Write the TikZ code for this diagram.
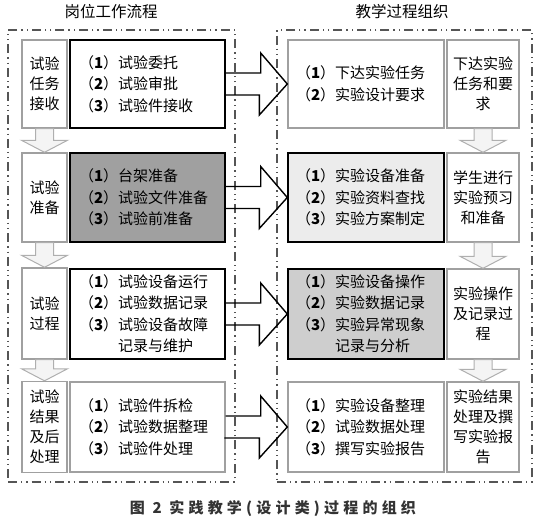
\documentclass[tikz,border=0pt]{standalone}
\usepackage{fontspec}
\setmainfont{Noto Sans CJK SC}
\newfontfamily\capfont[LetterSpace=28]{Noto Sans CJK SC}
\usetikzlibrary{calc}
\definecolor{bordergray}{RGB}{160,160,160}
\definecolor{darkfill}{RGB}{160,160,160}
\definecolor{lightfill}{RGB}{236,236,236}
\definecolor{midfill}{RGB}{206,206,206}
\definecolor{arrowfill}{RGB}{244,244,244}
\definecolor{arrowline}{RGB}{175,175,175}
\definecolor{framecol}{RGB}{85,85,85}
\tikzset{
  x=1pt, y=-1pt,
  every node/.style={font=\fontsize{15}{20}\selectfont, inner sep=0pt},
  framebox/.style={draw=framecol, line width=1.3pt,
    dash pattern=on 9pt off 4pt on 1.3pt off 4pt on 1.3pt off 4pt},
  smallbox/.style={draw=bordergray, line width=1.4pt, fill=white, align=center,
    minimum width=45pt, font=\fontsize{15}{20}\selectfont},
  graybox/.style={draw=bordergray, line width=1.4pt, fill=white},
  blackbox/.style={draw=black, line width=1.4pt},
  leftmain/.style={align=left, text width=137pt, inner xsep=9pt,
    font=\fontsize{15}{21.5}\selectfont},
  rightmain/.style={align=left, text width=140pt, inner xsep=8pt,
    font=\fontsize{15}{21.5}\selectfont},
  rightsmall/.style={draw=bordergray, line width=1.4pt, fill=white, align=center,
    minimum width=72pt, font=\fontsize{15}{20}\selectfont},
  rarrow/.style={draw=black, line width=1.4pt, line join=miter},
  darrow/.style={draw=arrowline, fill=arrowfill, line width=1pt, line join=miter},
  titletext/.style={font=\fontsize{15.5}{18}\selectfont},
}
\newcommand{\nb}[1]{（\textbf{#1}）}
\begin{document}
\begin{tikzpicture}
\useasboundingbox (0,0) rectangle (541,525);
% titles
\node[titletext] (TL) at (111,12) {岗位工作流程};
\node[titletext] (TR) at (402,12) {教学过程组织};
% frames
\node[framebox, minimum width=227pt, minimum height=452pt] (FL) at (121.5,256) {};
\node[framebox, minimum width=255pt, minimum height=452pt] (FR) at (404.5,256) {};
% row 1
\node[smallbox, minimum height=88pt] (S1) at (44.5,84) {试验\\任务\\接收};
\node[blackbox, fill=white, leftmain, minimum height=88pt] (L1) at (147.5,84)
  {\nb{1}试验委托\\\nb{2}试验审批\\\nb{3}试验件接收};
\node[graybox, rightmain, minimum height=88pt] (R1) at (366,84)
  {\nb{1}下达实验任务\\\nb{2}实验设计要求};
\node[rightsmall, minimum height=88pt] (T1) at (483,84) {下达实验\\任务和要\\求};
% row 2
\node[smallbox, minimum height=89pt] (S2) at (44.5,197.5) {试验\\准备};
\node[blackbox, fill=darkfill, leftmain, minimum height=89pt] (L2) at (147.5,197.5)
  {\nb{1}台架准备\\\nb{2}试验文件准备\\\nb{3}试验前准备};
\node[blackbox, fill=lightfill, rightmain, minimum height=89pt] (R2) at (366,197.5)
  {\nb{1}实验设备准备\\\nb{2}实验资料查找\\\nb{3}实验方案制定};
\node[rightsmall, minimum height=89pt] (T2) at (483,197.5) {学生进行\\实验预习\\和准备};
% row 3
\node[smallbox, minimum height=91pt] (S3) at (44.5,313.5) {试验\\过程};
\node[blackbox, fill=white, leftmain, minimum height=90pt] (L3) at (147.5,314)
  {\nb{1}试验设备运行\\\nb{2}试验数据记录\\\nb{3}试验设备故障\\\phantom{\nb{3}}记录与维护};
\node[blackbox, fill=midfill, rightmain, minimum height=90pt] (R3) at (366,314)
  {\nb{1}实验设备操作\\\nb{2}实验数据记录\\\nb{3}实验异常现象\\\phantom{\nb{3}}记录与分析};
\node[rightsmall, minimum height=90pt] (T3) at (483,314) {实验操作\\及记录过\\程};
% row 4
\node[smallbox, minimum height=91pt] (S4) at (44.5,427) {试验\\结果\\及后\\处理};
\node[graybox, leftmain, minimum height=90pt] (L4) at (147.5,427)
  {\nb{1}试验件拆检\\\nb{2}试验数据整理\\\nb{3}试验件处理};
\node[graybox, rightmain, minimum height=90pt] (R4) at (366,427)
  {\nb{1}实验设备整理\\\nb{2}试验数据处理\\\nb{3}撰写实验报告};
\node[rightsmall, minimum height=90pt] (T4) at (483,427) {实验结果\\处理及撰\\写实验报\\告};
% right block arrows
\foreach \a/\b in {L1/R1, L2/R2, L3/R3, L4/R4}{
  \draw[rarrow] ([yshift=11pt]\a.east) -- ++(35,0) -- ++(0,-20) -- (\b.west)
    -- ++(-28,31) -- ++(0,-20) -- ++(-35,0);
}
% down block arrows
\foreach \a/\b in {S1/S2, S2/S3, S3/S4, T1/T2, T2/T3, T3/T4}{
  \draw[darrow] ([xshift=-9pt]\a.south) -- ([xshift=-9pt,yshift=12pt]\b.north)
    -- ([xshift=-23pt,yshift=12pt]\b.north) -- (\b.north)
    -- ([xshift=23pt,yshift=12pt]\b.north) -- ([xshift=9pt,yshift=12pt]\b.north)
    -- ([xshift=9pt]\a.south) -- cycle;
}
% caption
\node[font=\capfont\bfseries\fontsize{15}{18}\selectfont, text=black!80] (CAP) at (273,508)
  {图 2 实践教学(设计类)过程的组织};
\end{tikzpicture}
\end{document}
